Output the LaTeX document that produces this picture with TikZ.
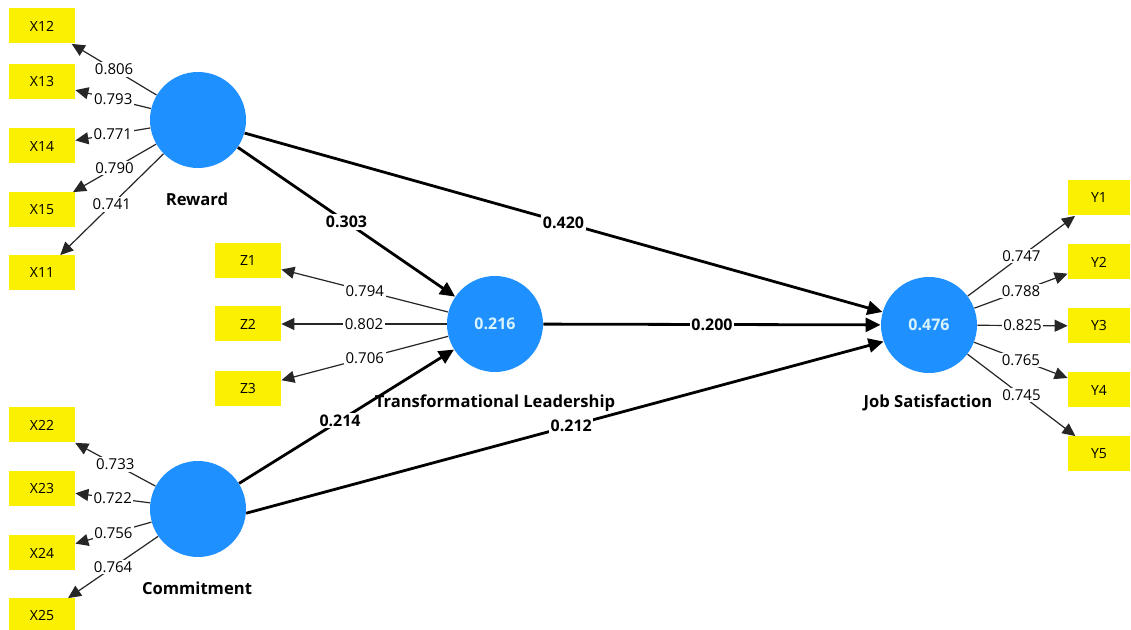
\documentclass[tikz,border=0pt]{standalone}
\usepackage{fontspec}
\setmainfont{Open Sans}
\usepackage{xcolor}
\usetikzlibrary{arrows.meta}
\definecolor{lvblue}{RGB}{30,144,255}
\definecolor{mvyellow}{RGB}{250,240,0}

\begin{document}
\begin{tikzpicture}[
    x=0.5pt,y=-0.5pt,
    >={Triangle[length=6.5pt,width=6pt]},
    latent/.style={circle,fill=lvblue,minimum size=48pt,inner sep=0pt,
      text=white!85!cyan,font=\fontsize{8}{9}\selectfont\bfseries},
    indicator/.style={fill=mvyellow,minimum width=33pt,minimum height=17.5pt,
      inner sep=0pt,font=\fontsize{7}{8}\selectfont},
    lvname/.style={font=\fontsize{8.3}{9}\selectfont\bfseries},
    loadline/.style={->,line width=0.6pt,draw=black!85},
    pathline/.style={-{Triangle[length=7.5pt,width=7pt]},line width=1.4pt},
    loading/.style={fill=white,inner sep=0.8pt,font=\fontsize{7.5}{8}\selectfont},
    coef/.style={fill=white,inner sep=0.8pt,font=\fontsize{8}{9}\selectfont\bfseries}
  ]
    \path[fill=white,use as bounding box] (0,0) rectangle (1131,630);

    % latent variables
    \node[latent] (reward) at (198,120) {};
    \node[latent] (commit) at (198,509) {};
    \node[latent] (tl) at (495,324) {0.216};
    \node[latent] (js) at (929,325) {0.476};
    \node[lvname] (rewardname) at (197,199) {Reward};
    \node[lvname] (commitname) at (197,588) {Commitment};
    \node[lvname] (tlname) at (495,403) {Transformational Leadership};
    \node[lvname] (jsname) at (928,403) {Job Satisfaction};

    % indicators
    \node[indicator] (x12) at (42,26) {X12};
    \node[indicator] (x13) at (42,82) {X13};
    \node[indicator] (x14) at (42,146) {X14};
    \node[indicator] (x15) at (42,210) {X15};
    \node[indicator] (x11) at (42,273) {X11};
    \node[indicator] (x22) at (42,425) {X22};
    \node[indicator] (x23) at (42,489) {X23};
    \node[indicator] (x24) at (42,553) {X24};
    \node[indicator] (x25) at (42,616) {X25};
    \node[indicator] (z1) at (248,261) {Z1};
    \node[indicator] (z2) at (248,324) {Z2};
    \node[indicator] (z3) at (248,389) {Z3};
    \node[indicator,minimum width=31pt] (y1) at (1099,198) {Y1};
    \node[indicator,minimum width=31pt] (y2) at (1099,262) {Y2};
    \node[indicator,minimum width=31pt] (y3) at (1099,326) {Y3};
    \node[indicator,minimum width=31pt] (y4) at (1099,390) {Y4};
    \node[indicator,minimum width=31pt] (y5) at (1099,454) {Y5};

    % outer loadings
    \draw[loadline] (reward) -- (x12) node[loading,pos=0.5] {0.806};
    \draw[loadline] (reward) -- (x13) node[loading,pos=0.5] {0.793};
    \draw[loadline] (reward) -- (x14) node[loading,pos=0.5] {0.771};
    \draw[loadline] (reward) -- (x15) node[loading,pos=0.5] {0.790};
    \draw[loadline] (reward) -- (x11) node[loading,pos=0.5] {0.741};
    \draw[loadline] (commit) -- (x22) node[loading,pos=0.5] {0.733};
    \draw[loadline] (commit) -- (x23) node[loading,pos=0.5] {0.722};
    \draw[loadline] (commit) -- (x24) node[loading,pos=0.5] {0.756};
    \draw[loadline] (commit) -- (x25) node[loading,pos=0.5] {0.764};
    \draw[loadline] (tl) -- (z1) node[loading,pos=0.5] {0.794};
    \draw[loadline] (tl) -- (z2) node[loading,pos=0.5] {0.802};
    \draw[loadline] (tl) -- (z3) node[loading,pos=0.5] {0.706};
    \draw[loadline] (js) -- (y1) node[loading,pos=0.5] {0.747};
    \draw[loadline] (js) -- (y2) node[loading,pos=0.5] {0.788};
    \draw[loadline] (js) -- (y3) node[loading,pos=0.5] {0.825};
    \draw[loadline] (js) -- (y4) node[loading,pos=0.5] {0.765};
    \draw[loadline] (js) -- (y5) node[loading,pos=0.5] {0.745};

    % path coefficients
    \draw[pathline] (reward) -- (tl) node[coef,pos=0.5] {0.303};
    \draw[pathline] (reward) -- (js) node[coef,pos=0.5] {0.420};
    \draw[pathline] (tl) -- (js) node[coef,pos=0.5] {0.200};
    \draw[pathline] (commit) -- (tl) node[coef,pos=0.47] {0.214};
    \draw[pathline] (commit.355) -- (js.200) node[coef,pos=0.51] {0.212};
  \end{tikzpicture}
\end{document}
